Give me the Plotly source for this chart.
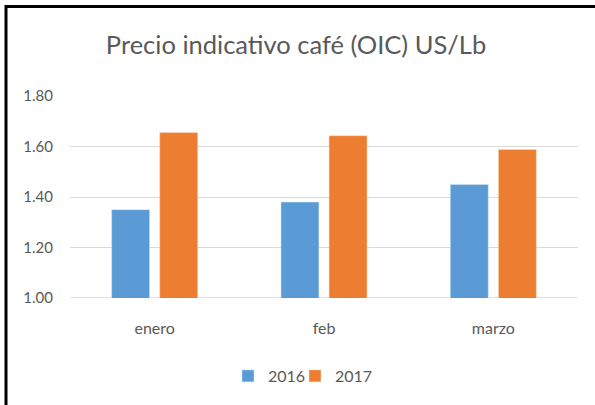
import plotly.graph_objects as go

months = ["enero", "feb", "marzo"]
v2016 = [1.35, 1.38, 1.45]
v2017 = [1.655, 1.643, 1.588]
yticks = [1.0, 1.2, 1.4, 1.6, 1.8]
yticklabels = ["1.00", "1.20", "1.40", "1.60", "1.80"]

W, H = 595, 405
L, R, T, B = 70, 17, 96, 107
pw, ph = W - L - R, H - T - B

def px_x(x):
    return (x - L) / pw

def px_y(y):
    return (H - B - y) / ph

fig = go.Figure()
fig.add_trace(go.Bar(x=months, y=v2016, name="2016", legend="legend",
                     marker=dict(color="#5B9BD5", line=dict(color="#DDEBF7", width=0.5))))
fig.add_trace(go.Bar(x=months, y=v2017, name="2017", legend="legend2",
                     marker=dict(color="#ED7D31", line=dict(color="#FBE1D1", width=0.5))))

leg_common = dict(orientation="h", xanchor="left", y=px_y(376), yanchor="middle",
                  font=dict(size=16, color="#595959"), itemwidth=30,
                  bgcolor="rgba(0,0,0,0)")

fig.update_layout(
    width=W, height=H,
    margin=dict(l=L, r=R, t=T, b=B),
    paper_bgcolor="white", plot_bgcolor="white",
    font=dict(family="Lato, Carlito, sans-serif", color="#595959", size=15),
    title=dict(text="Precio indicativo café (OIC) US/Lb", x=296 / W, xref="container",
               y=1 - 45 / H, yref="container", xanchor="center", yanchor="middle",
               font=dict(size=25.5, color="#595959")),
    barmode="group", bargap=0.432, bargroupgap=0.21,
    showlegend=True,
    legend=dict(x=px_x(228), **leg_common),
    legend2=dict(x=px_x(295), **leg_common),
    xaxis=dict(showgrid=False, showline=False, ticks="", ticklabelstandoff=19,
               tickfont=dict(size=16, color="#595959")),
    yaxis=dict(range=[1.0, 1.8], tickvals=yticks, ticktext=yticklabels,
               showgrid=True, gridcolor="#D9D9D9", gridwidth=1, zeroline=False,
               showline=False, ticks="", ticklabelstandoff=16,
               tickfont=dict(size=15, color="#595959")),
    shapes=[
        dict(type="line", xref="paper", yref="paper", x0=px_x(5), x1=px_x(600),
             y0=px_y(6.5), y1=px_y(6.5), line=dict(color="black", width=3)),
        dict(type="line", xref="paper", yref="paper", x0=px_x(6), x1=px_x(6),
             y0=px_y(5), y1=px_y(410), line=dict(color="black", width=3)),
        dict(type="line", xref="paper", yref="y", x0=0, x1=1, y0=1.0, y1=1.0,
             line=dict(color="#D9D9D9", width=1.5), layer="below"),
    ],
)

fig.write_html("out.html", config={"displayModeBar": False},
               post_script="document.body.style.margin='0';document.body.style.overflow='hidden';")
